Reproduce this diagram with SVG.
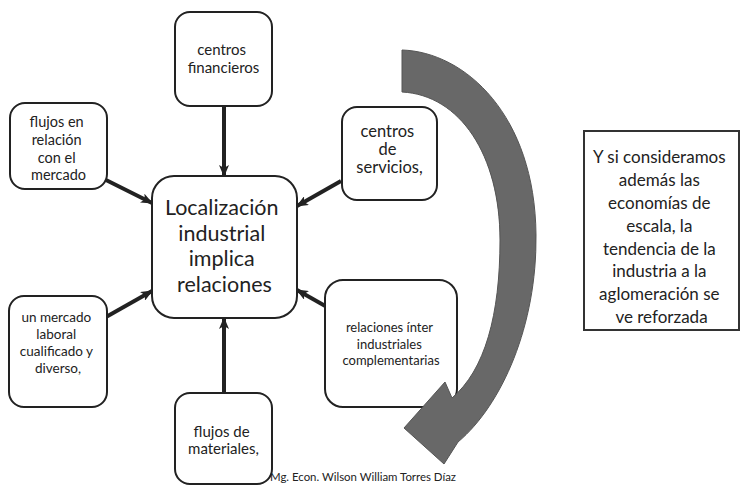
<svg xmlns="http://www.w3.org/2000/svg" width="746" height="488" viewBox="0 0 746 488">
  <defs>
    <style>
      .box { fill: #ffffff; stroke: #222222; stroke-width: 2; }
      .note { fill: #ffffff; stroke: #333333; stroke-width: 2; }
      .lbl { font-family: Lato, "Liberation Sans", sans-serif; fill: #222222; text-anchor: middle; }
      .conn { stroke: #222222; stroke-width: 4; fill: none; marker-end: url(#head); }
      .sweep { fill: #686868; stroke: #555555; stroke-width: 1; }
      .credit { font-family: Lato, "Liberation Sans", sans-serif; fill: #222222; font-size: 11.5px; }
    </style>
    <marker id="head" viewBox="0 0 12 10" refX="11" refY="5" markerWidth="12" markerHeight="10" markerUnits="userSpaceOnUse" orient="auto">
      <path d="M0,0 L12,5 L0,10 L3,5 Z" fill="#222222"/>
    </marker>
  </defs>

  <rect width="746" height="488" fill="#ffffff"/>

  <!-- connectors: every satellite points at the central box -->
  <g id="connectors">
    <line class="conn" x1="224" y1="106" x2="224" y2="176"/>
    <line class="conn" x1="106" y1="180" x2="152" y2="203"/>
    <line class="conn" x1="106" y1="317" x2="152" y2="291"/>
    <line class="conn" x1="224" y1="393" x2="224" y2="318"/>
    <line class="conn" x1="341" y1="181" x2="297" y2="206"/>
    <line class="conn" x1="327" y1="307" x2="297" y2="290"/>
  </g>

  <g id="center">
    <rect class="box" x="152" y="176" width="145" height="142" rx="22"/>
    <text class="lbl" font-size="21.5">
      <tspan x="224.5" y="215">Localización</tspan>
      <tspan x="224.5" y="241">industrial</tspan>
      <tspan x="224.5" y="266">implica</tspan>
      <tspan x="224.5" y="292">relaciones</tspan>
    </text>
  </g>

  <g id="financieros">
    <rect class="box" x="175" y="12" width="97" height="94" rx="15"/>
    <text class="lbl" font-size="15">
      <tspan x="223.5" y="55">centros</tspan>
      <tspan x="223.5" y="73">financieros</tspan>
    </text>
  </g>

  <g id="mercado">
    <rect class="box" x="10" y="103" width="97" height="86" rx="15"/>
    <text class="lbl" font-size="14.5">
      <tspan x="58.5" y="127">flujos en</tspan>
      <tspan x="58.5" y="145">relación</tspan>
      <tspan x="58.5" y="163">con el</tspan>
      <tspan x="58.5" y="180">mercado</tspan>
    </text>
  </g>

  <g id="laboral">
    <rect class="box" x="9" y="296" width="98" height="111" rx="15"/>
    <text class="lbl" font-size="13.5">
      <tspan x="58" y="322">un mercado</tspan>
      <tspan x="58" y="339">laboral</tspan>
      <tspan x="58" y="356">cualificado y</tspan>
      <tspan x="58" y="373">diverso,</tspan>
    </text>
  </g>

  <g id="materiales">
    <rect class="box" x="175" y="393" width="97" height="91" rx="15"/>
    <text class="lbl" font-size="15">
      <tspan x="223.5" y="437">flujos de</tspan>
      <tspan x="223.5" y="454">materiales,</tspan>
    </text>
  </g>

  <g id="servicios">
    <rect class="box" x="342" y="107" width="95" height="93" rx="15"/>
    <text class="lbl" font-size="16.5">
      <tspan x="389.5" y="137">centros</tspan>
      <tspan x="389.5" y="155">de</tspan>
      <tspan x="389.5" y="173">servicios,</tspan>
    </text>
  </g>

  <g id="interindustriales">
    <rect class="box" x="325" y="280" width="132" height="127" rx="18"/>
    <text class="lbl" font-size="13">
      <tspan x="391" y="332">relaciones ínter</tspan>
      <tspan x="391" y="349">industriales</tspan>
      <tspan x="391" y="365">complementarias</tspan>
    </text>
  </g>

  <!-- large curved arrow sweeping clockwise around the right-hand boxes -->
  <g id="curved-arrow">
    <path class="sweep" d="M402,50 C465,52 535,115 536,235 C537,325 502,405 458,442 L444,464 L404,428 L445,382 L452,398 C485,370 500,315 500,240 C500,155 460,95 402,92 Z"/>
  </g>

  <g id="note">
    <rect class="note" x="584" y="131" width="155" height="199"/>
    <text class="lbl" font-size="17">
      <tspan x="661.5" y="163">Y si consideramos</tspan>
      <tspan x="661.5" y="186">además las</tspan>
      <tspan x="661.5" y="209">economías de</tspan>
      <tspan x="661.5" y="232">escala, la</tspan>
      <tspan x="661.5" y="255">tendencia de la</tspan>
      <tspan x="661.5" y="277">industria a la</tspan>
      <tspan x="661.5" y="300">aglomeración se</tspan>
      <tspan x="661.5" y="323">ve reforzada</tspan>
    </text>
  </g>

  <text class="credit" x="270" y="481" textLength="186" lengthAdjust="spacingAndGlyphs">Mg. Econ. Wilson William Torres Díaz</text>
</svg>
